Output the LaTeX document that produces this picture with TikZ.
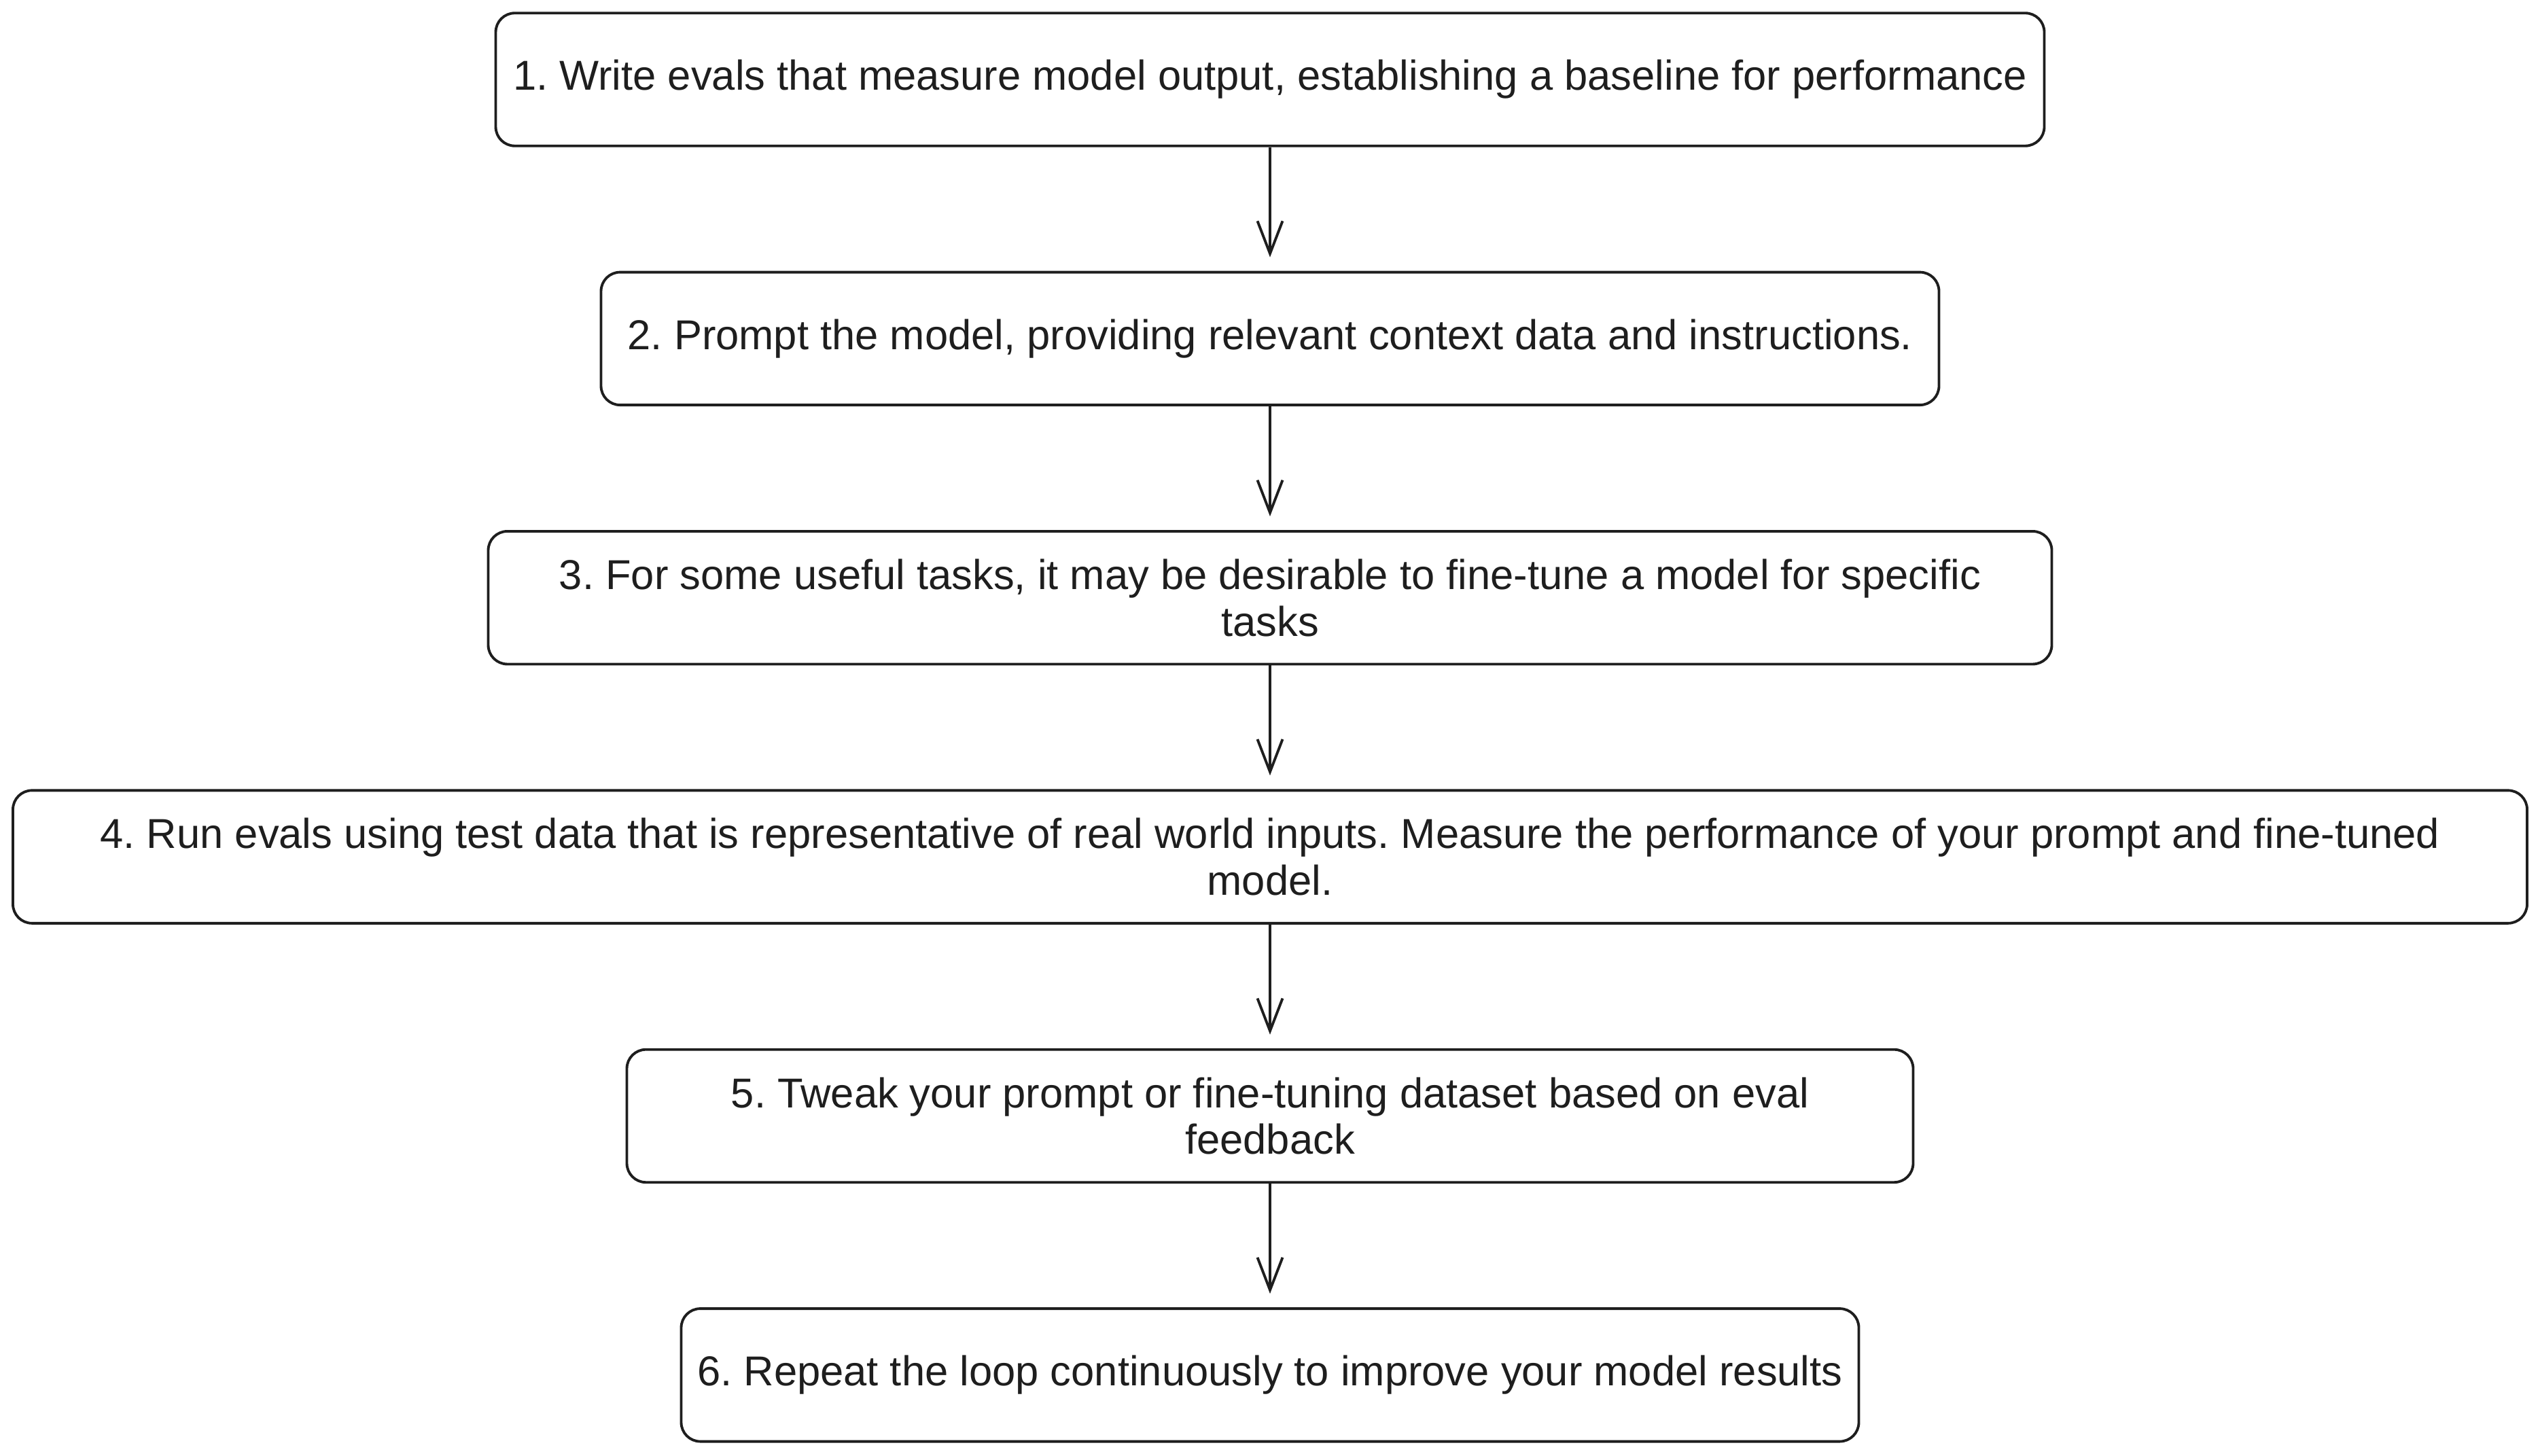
\documentclass[tikz,border=0pt]{standalone}
\usepackage{fontspec}
\setmainfont{Liberation Sans}
\usetikzlibrary{arrows.meta, positioning}

\begin{document}
\begin{tikzpicture}[
			node distance=1.82cm,
			block/.style={rectangle, draw=ink, line width=1.1pt, rounded corners=8pt, align=center, minimum height=1.955cm, text=ink, font=\fontsize{17.5}{19.6}\selectfont\frenchspacing},
			arrow/.style={-{Straight Barb[length=4.8mm, width=3.7mm]}, draw=ink, line width=1.1pt, shorten >=2mm}
			]
			\definecolor{ink}{HTML}{1E1E1E}
			\useasboundingbox (0,0) rectangle (37.38,-21.43);
			\node[block, minimum width=22.79cm] (evals) at (18.69,-1.17) {1. Write evals that measure model output, establishing a baseline for performance};
			\node[block, minimum width=19.69cm, below=of evals] (prompt) {2. Prompt the model, providing relevant context data and instructions.};
			\node[block, minimum width=23.01cm, below=of prompt] (tune) {3. For some useful tasks, it may be desirable to fine-tune a model for specific\\tasks};
			\node[block, minimum width=37.00cm, below=of tune] (run) {4. Run evals using test data that is representative of real world inputs. Measure the performance of your prompt and fine-tuned\\model.};
			\node[block, minimum width=18.93cm, below=of run] (tweak) {5. Tweak your prompt or fine-tuning dataset based on eval\\feedback};
			\node[block, minimum width=17.33cm, below=of tweak] (loop) {6. Repeat the loop continuously to improve your model results};
			
			\draw[arrow] (evals) -- (prompt);
			\draw[arrow] (prompt) -- (tune);
			\draw[arrow] (tune) -- (run);
			\draw[arrow] (run) -- (tweak);
			\draw[arrow] (tweak) -- (loop);
		\end{tikzpicture}
\end{document}
